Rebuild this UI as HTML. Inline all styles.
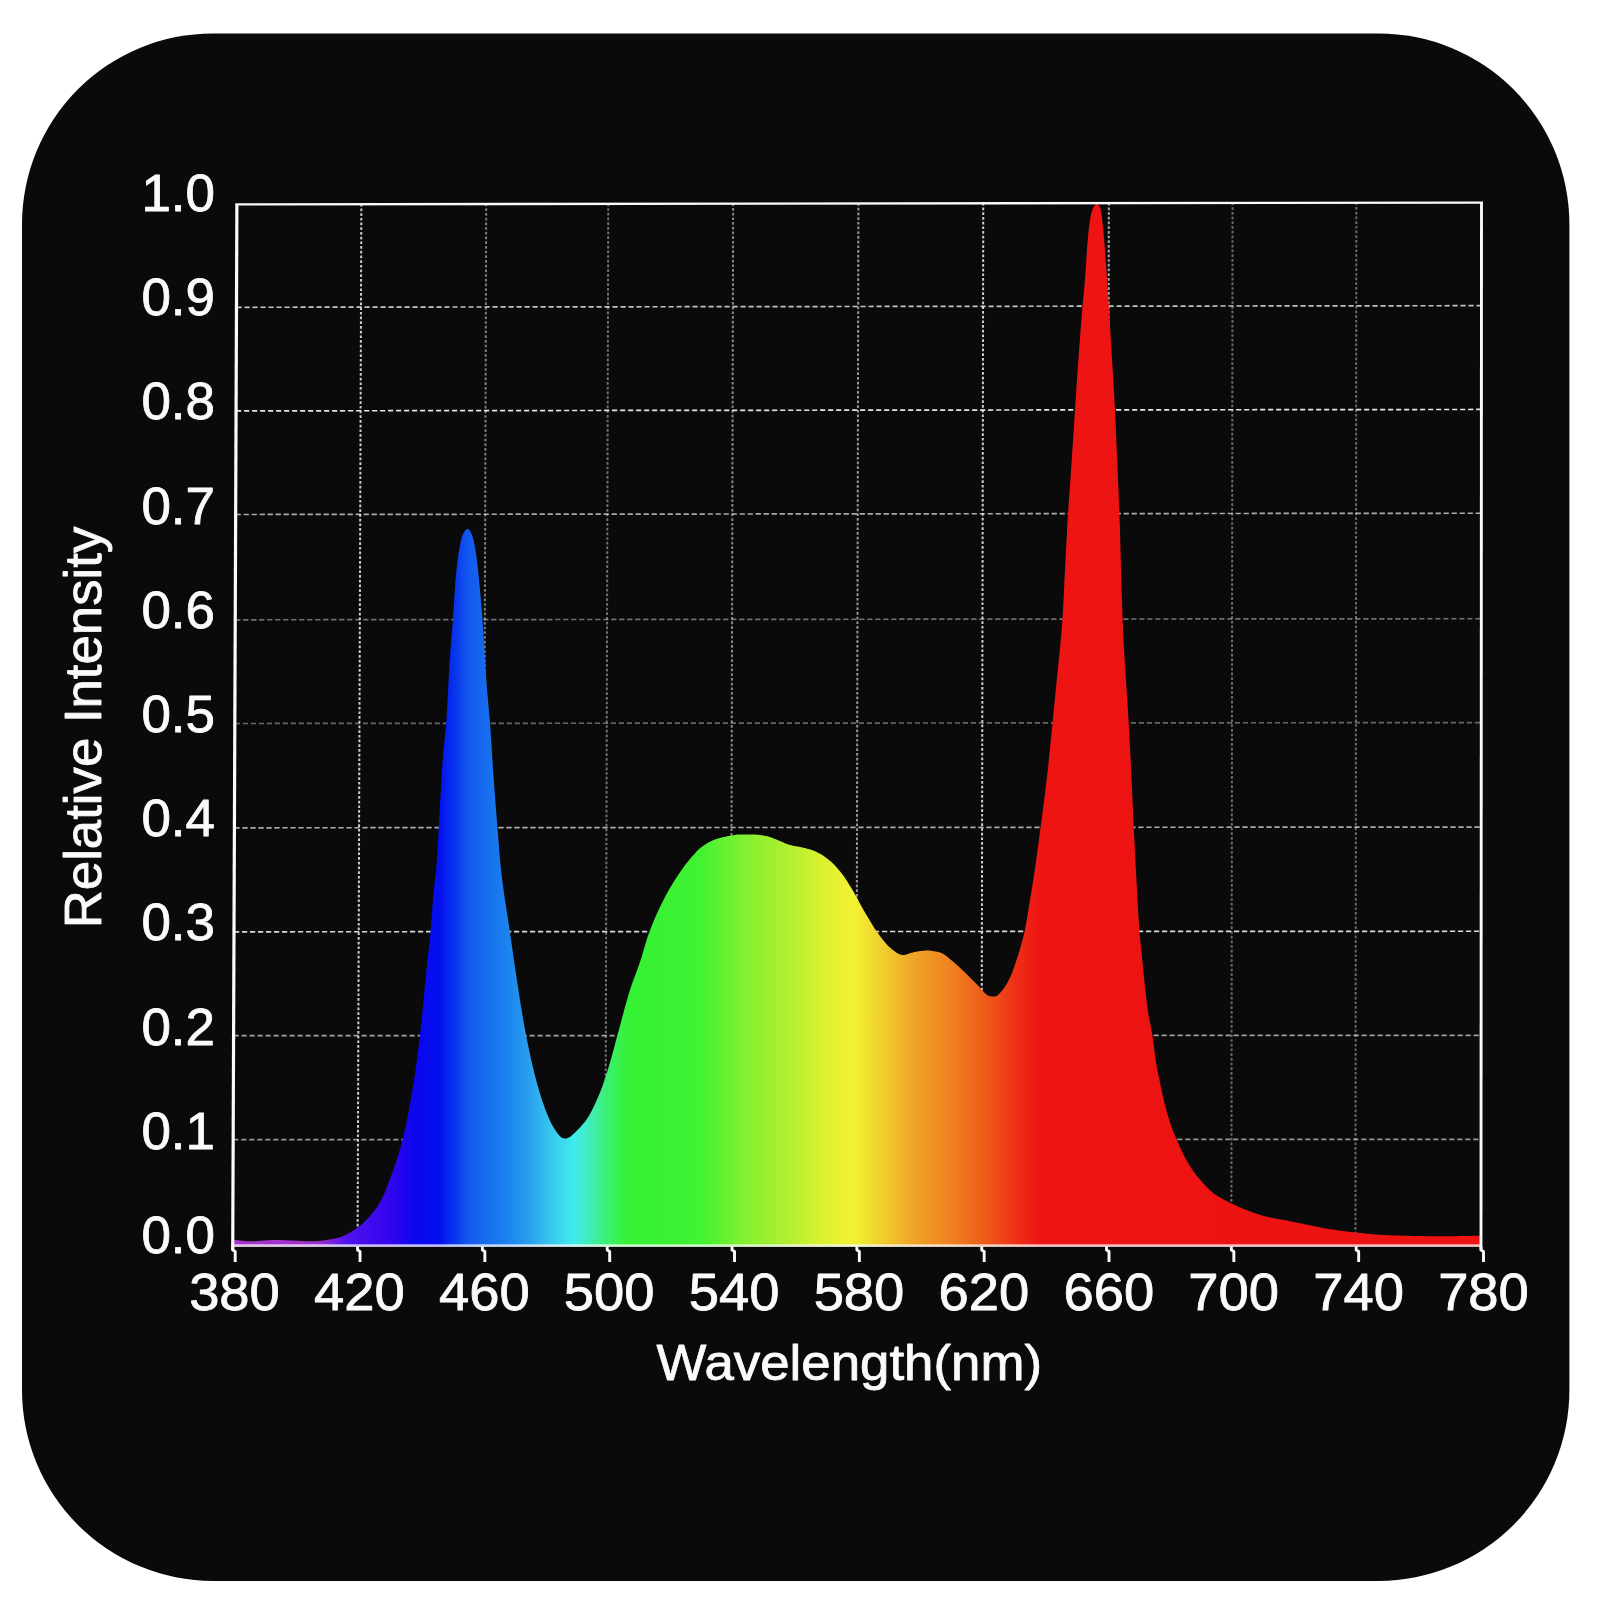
<!DOCTYPE html>
<html lang="en">
<head>
<meta charset="utf-8">
<title>Relative Intensity vs Wavelength(nm)</title>
<style>
html,body{margin:0;padding:0;background:#ffffff;}
body{width:1600px;height:1600px;overflow:hidden;position:relative;}
svg{position:absolute;left:0;top:0;display:block;}
text{font-family:"Liberation Sans", Arial, Helvetica, sans-serif;fill:#fbfbfb;stroke:#fbfbfb;stroke-width:0.8px;stroke-linejoin:round;}
</style>
</head>
<body>
<svg width="1600" height="1600" viewBox="0 0 1600 1600">
<defs>
<linearGradient id="spec" gradientUnits="userSpaceOnUse" x1="233" y1="0" x2="1481" y2="0">
<stop offset="0.0000" stop-color="#a832c8"/>
<stop offset="0.0665" stop-color="#a030cc"/>
<stop offset="0.0793" stop-color="#7a22dc"/>
<stop offset="0.0913" stop-color="#5012ec"/>
<stop offset="0.1274" stop-color="#3004ee"/>
<stop offset="0.1458" stop-color="#0a06ee"/>
<stop offset="0.1659" stop-color="#0410ee"/>
<stop offset="0.1779" stop-color="#0a36ee"/>
<stop offset="0.1875" stop-color="#1256ee"/>
<stop offset="0.2059" stop-color="#1870ee"/>
<stop offset="0.2179" stop-color="#1a80ee"/>
<stop offset="0.2380" stop-color="#2aa0ee"/>
<stop offset="0.2540" stop-color="#38c6ee"/>
<stop offset="0.2732" stop-color="#40ecee"/>
<stop offset="0.2877" stop-color="#40eeb0"/>
<stop offset="0.2997" stop-color="#3cf070"/>
<stop offset="0.3165" stop-color="#34f234"/>
<stop offset="0.3742" stop-color="#40f232"/>
<stop offset="0.4062" stop-color="#7cf030"/>
<stop offset="0.4463" stop-color="#b4f030"/>
<stop offset="0.4704" stop-color="#d8f030"/>
<stop offset="0.4968" stop-color="#f3f334"/>
<stop offset="0.5264" stop-color="#f0c42c"/>
<stop offset="0.5465" stop-color="#f0a226"/>
<stop offset="0.5761" stop-color="#f08020"/>
<stop offset="0.6066" stop-color="#ee5518"/>
<stop offset="0.6266" stop-color="#ee3016"/>
<stop offset="0.6466" stop-color="#ee1414"/>
<stop offset="1.0000" stop-color="#ee1212"/>
</linearGradient>
</defs>
<rect x="22.0" y="33.4" width="1547.4" height="1547.5" rx="191" ry="191" fill="#0a0a0a"/>
<g stroke="#f0f0f0" stroke-width="2" stroke-dasharray="2.7 2" fill="none">
<line x1="361.36" y1="203.82" x2="357.57" y2="1244" stroke-opacity="0.85"/>
<line x1="486.22" y1="203.64" x2="482.8" y2="1244" stroke-opacity="0.5"/>
<line x1="608.28" y1="203.46" x2="605.22" y2="1244" stroke-opacity="0.45"/>
<line x1="733.14" y1="203.28" x2="730.45" y2="1244" stroke-opacity="0.55"/>
<line x1="858.4" y1="203.1" x2="856.08" y2="1244" stroke-opacity="0.62"/>
<line x1="983.26" y1="202.92" x2="981.3" y2="1244" stroke-opacity="0.85"/>
<line x1="1108.82" y1="202.74" x2="1107.23" y2="1244" stroke-opacity="0.7"/>
<line x1="1232.58" y1="202.56" x2="1231.35" y2="1244" stroke-opacity="0.42"/>
<line x1="1356.34" y1="202.38" x2="1355.47" y2="1244" stroke-opacity="0.42"/>
</g>
<g stroke="#f0f0f0" stroke-width="1.7" stroke-dasharray="5.2 2.8" fill="none">
<line x1="236.49" y1="307.3" x2="1481.45" y2="305.68" stroke-opacity="0.8"/>
<line x1="236.07" y1="410.9" x2="1481.4" y2="409.46" stroke-opacity="0.95"/>
<line x1="235.66" y1="514.5" x2="1481.35" y2="513.24" stroke-opacity="0.7"/>
<line x1="235.24" y1="619.8" x2="1481.3" y2="618.72" stroke-opacity="0.45"/>
<line x1="234.82" y1="723.5" x2="1481.25" y2="722.6" stroke-opacity="0.4"/>
<line x1="234.41" y1="827.8" x2="1481.2" y2="827.08" stroke-opacity="0.7"/>
<line x1="234" y1="931.8" x2="1481.15" y2="931.26" stroke-opacity="0.9"/>
<line x1="233.58" y1="1035.7" x2="1481.1" y2="1035.34" stroke-opacity="0.65"/>
<line x1="233.16" y1="1139.6" x2="1481.05" y2="1139.42" stroke-opacity="0.6"/>
</g>
<path d="M233.5 1246.5L233.5 1239.4L235 1239.66L236.5 1239.92L238 1240.16L239.5 1240.39L241 1240.59L242.5 1240.78L244 1240.94L245.5 1241.07L247 1241.17L248.5 1241.23L250 1241.25L251.5 1241.24L253 1241.2L254.5 1241.14L256 1241.07L257.5 1240.98L259 1240.88L260.5 1240.77L262 1240.66L263.5 1240.55L265 1240.44L266.5 1240.34L268 1240.24L269.5 1240.15L271 1240.09L272.5 1240.04L274 1240.01L275.5 1240L277 1240.01L278.5 1240.03L280 1240.06L281.5 1240.1L283 1240.15L284.5 1240.2L286 1240.26L287.5 1240.32L289 1240.39L290.5 1240.46L292 1240.54L293.5 1240.61L295 1240.69L296.5 1240.76L298 1240.83L299.5 1240.9L301 1240.97L302.5 1241.03L304 1241.09L305.5 1241.14L307 1241.18L308.5 1241.21L310 1241.23L311.5 1241.25L313 1241.25L314.5 1241.22L316 1241.17L317.5 1241.08L319 1240.97L320.5 1240.84L322 1240.68L323.5 1240.5L325 1240.29L326.5 1240.07L328 1239.83L329.5 1239.58L331 1239.31L332.5 1239.02L334 1238.73L335.5 1238.42L337 1238.11L338.5 1237.76L340 1237.3L341.5 1236.74L343 1236.09L344.5 1235.38L346 1234.63L347.5 1233.84L349 1233.03L350.5 1232.23L352 1231.37L353.5 1230.45L355 1229.46L356.5 1228.42L358 1227.31L359.5 1226.15L361 1224.93L362.5 1223.65L364 1222.3L365.5 1220.87L367 1219.36L368.5 1217.77L370 1216.1L371.5 1214.34L373 1212.49L374.5 1210.52L376 1208.44L377.5 1206.22L379 1203.85L380.5 1201.33L382 1198.6L383.5 1195.48L385 1192.01L386.5 1188.28L388 1184.36L389.5 1180.35L391 1176.3L392.5 1172.19L394 1167.97L395.5 1163.6L397 1159.04L398.5 1154.25L400 1149.18L401.5 1143.79L403 1138.03L404.5 1131.76L406 1124.96L407.5 1117.66L409 1109.87L410.5 1101.64L412 1092.98L413.5 1083.8L415 1073.77L416.5 1062.95L418 1051.4L419.5 1039.2L421 1026.11L422.5 1011.49L424 995.95L425.5 980.18L427 964.88L428.5 950.87L430 937.16L431.5 919.44L433 898.63L434.5 883.68L436 872.07L437.5 850.43L439 823.73L440.5 796.14L442 769.43L443.5 749.36L445 735.9L446.5 719.59L448 692.28L449.5 662.91L451 642.5L452.5 625.86L454 603.38L455.5 580L457 565.23L458.5 554.06L460 545.16L461.5 537.98L463 534L464.5 531.34L466 529.46L467.5 528.75L469 529.62L470.5 531.9L472 535.08L473.5 539.54L475 547.17L476.5 556.71L478 569.7L479.5 585L481 601.09L482.5 619.5L484 643.18L485.5 668.87L487 689.34L488.5 705.63L490 723L491.5 745.12L493 768.97L494.5 790.18L496 809.42L497.5 828L499 847.19L500.5 865.02L502 878.6L503.5 889.68L505 900L506.5 910.03L508 919.56L509.5 929.17L511 939.4L512.5 950.09L514 960.72L515.5 970.8L517 980.69L518.5 990.51L520 1000.15L521.5 1009.52L523 1018.51L524.5 1027.04L526 1035L527.5 1042.51L529 1049.74L530.5 1056.68L532 1063.33L533.5 1069.67L535 1075.69L536.5 1081.39L538 1086.76L539.5 1091.87L541 1096.75L542.5 1101.39L544 1105.78L545.5 1109.91L547 1113.77L548.5 1117.37L550 1120.7L551.5 1123.75L553 1126.5L554.5 1128.96L556 1131.18L557.5 1133.2L559 1135.19L560.5 1136.84L562 1137.77L563.5 1138.47L565 1138.75L566.5 1138.49L568 1137.87L569.5 1137.14L571 1136.13L572.5 1134.86L574 1133.45L575.5 1132.03L577 1130.58L578.5 1129.07L580 1127.48L581.5 1125.81L583 1124.04L584.5 1122.15L586 1120.15L587.5 1118L589 1115.66L590.5 1113.07L592 1110.27L593.5 1107.28L595 1104.1L596.5 1100.77L598 1097.3L599.5 1093.72L601 1089.98L602.5 1085.93L604 1081.6L605.5 1077.05L607 1072.31L608.5 1067.45L610 1062.5L611.5 1057.33L613 1051.86L614.5 1046.22L616 1040.55L617.5 1035L619 1029.48L620.5 1023.88L622 1018.25L623.5 1012.65L625 1007.12L626.5 1001.73L628 996.53L629.5 991.59L631 986.95L632.5 982.62L634 978.51L635.5 974.5L637 970.48L638.5 966.35L640 962L641.5 957.29L643 952.28L644.5 947.16L646 942.11L647.5 937.33L649 933L650.5 929.03L652 925.22L653.5 921.53L655 917.98L656.5 914.55L658 911.24L659.5 908.02L661 904.91L662.5 901.88L664 898.93L665.5 896.05L667 893.26L668.5 890.57L670 887.97L671.5 885.45L673 882.99L674.5 880.61L676 878.28L677.5 876L679 873.76L680.5 871.57L682 869.41L683.5 867.32L685 865.28L686.5 863.31L688 861.41L689.5 859.59L691 857.83L692.5 856.09L694 854.38L695.5 852.71L697 851.12L698.5 849.62L700 848.24L701.5 846.99L703 845.9L704.5 844.88L706 843.93L707.5 843.02L709 842.18L710.5 841.41L712 840.7L713.5 840.06L715 839.5L716.5 838.99L718 838.52L719.5 838.08L721 837.68L722.5 837.3L724 836.95L725.5 836.64L727 836.34L728.5 836.06L730 835.78L731.5 835.49L733 835.22L734.5 834.97L736 834.76L737.5 834.61L739 834.52L740.5 834.5L742 834.5L743.5 834.5L745 834.5L746.5 834.5L748 834.5L749.5 834.5L751 834.5L752.5 834.5L754 834.53L755.5 834.6L757 834.71L758.5 834.86L760 835.03L761.5 835.23L763 835.45L764.5 835.67L766 835.93L767.5 836.29L769 836.74L770.5 837.26L772 837.83L773.5 838.43L775 839.03L776.5 839.62L778 840.19L779.5 840.79L781 841.44L782.5 842.1L784 842.77L785.5 843.41L787 844.01L788.5 844.55L790 845L791.5 845.37L793 845.69L794.5 845.98L796 846.25L797.5 846.51L799 846.77L800.5 847.06L802 847.38L803.5 847.74L805 848.11L806.5 848.5L808 848.91L809.5 849.35L811 849.81L812.5 850.32L814 850.86L815.5 851.45L817 852.13L818.5 852.88L820 853.71L821.5 854.61L823 855.57L824.5 856.58L826 857.64L827.5 858.75L829 859.93L830.5 861.21L832 862.58L833.5 864.04L835 865.59L836.5 867.21L838 868.9L839.5 870.65L841 872.49L842.5 874.47L844 876.58L845.5 878.8L847 881.11L848.5 883.49L850 885.91L851.5 888.36L853 890.83L854.5 893.4L856 896.08L857.5 898.83L859 901.63L860.5 904.43L862 907.19L863.5 909.9L865 912.5L866.5 915.05L868 917.59L869.5 920.11L871 922.6L872.5 925.02L874 927.38L875.5 929.65L877 931.81L878.5 933.87L880 935.93L881.5 937.97L883 939.94L884.5 941.82L886 943.59L887.5 945.21L889 946.65L890.5 947.9L892 949.14L893.5 950.39L895 951.58L896.5 952.67L898 953.61L899.5 954.35L901 954.83L902.5 955L904 954.91L905.5 954.65L907 954.28L908.5 953.83L910 953.34L911.5 952.86L913 952.43L914.5 952.09L916 951.84L917.5 951.59L919 951.34L920.5 951.11L922 950.9L923.5 950.72L925 950.59L926.5 950.52L928 950.5L929.5 950.57L931 950.7L932.5 950.89L934 951.14L935.5 951.43L937 951.76L938.5 952.12L940 952.5L941.5 953.03L943 953.79L944.5 954.75L946 955.86L947.5 957.07L949 958.33L950.5 959.61L952 960.85L953.5 962.05L955 963.3L956.5 964.6L958 965.94L959.5 967.32L961 968.71L962.5 970.13L964 971.55L965.5 972.98L967 974.44L968.5 975.94L970 977.47L971.5 979.01L973 980.54L974.5 982.06L976 983.55L977.5 985L979 986.53L980.5 988.23L982 989.98L983.5 991.7L985 993.28L986.5 994.61L988 995.61L989.5 996.18L991 996.33L992.5 996.43L994 996.49L995.5 996.45L997 995.81L998.5 994.57L1000 992.95L1001.5 991.17L1003 989.41L1004.5 987.39L1006 985.04L1007.5 982.41L1009 979.53L1010.5 976.43L1012 972.9L1013.5 968.93L1015 964.63L1016.5 960.1L1018 955.44L1019.5 950.64L1021 945.57L1022.5 940.06L1024 933.95L1025.5 926.88L1027 918.42L1028.5 909.22L1030 900L1031.5 890.98L1033 881.74L1034.5 872L1036 861.58L1037.5 850.62L1039 839.3L1040.5 827.83L1042 816.4L1043.5 805L1045 793.35L1046.5 781.12L1048 767.98L1049.5 753.51L1051 738.26L1052.5 723L1054 708.01L1055.5 692.94L1057 677.66L1058.5 662.63L1060 648.41L1061.5 632.36L1063 610.87L1064.5 580L1066 550.43L1067.5 522.2L1069 498.68L1070.5 478.14L1072 456.24L1073.5 433.03L1075 410L1076.5 387.51L1078 365.54L1079.5 344.7L1081 324.68L1082.5 306.25L1084 290.92L1085.5 273.05L1087 249.01L1088.5 231.87L1090 220L1091.5 212.57L1093 208L1094.5 205.53L1096 203.98L1097.5 203.95L1099 205.4L1100.5 208.58L1102 217.78L1103.5 232.34L1105 250.16L1106.5 271.09L1108 294.27L1109.5 318.24L1111 342.65L1112.5 367.5L1114 392L1115.5 420.39L1117 456.04L1118.5 490.71L1120 530.69L1121.5 587.89L1123 630.48L1124.5 657.75L1126 681L1127.5 703.69L1129 727.4L1130.5 756.86L1132 788.76L1133.5 822.21L1135 852.67L1136.5 881.57L1138 908.89L1139.5 932.49L1141 947.78L1142.5 962.34L1144 977.47L1145.5 991.4L1147 1004.43L1148.5 1014.98L1150 1022.73L1151.5 1029.9L1153 1039.11L1154.5 1051.68L1156 1062.44L1157.5 1070.49L1159 1077.77L1160.5 1085.15L1162 1092.32L1163.5 1098.96L1165 1105.02L1166.5 1110.74L1168 1116.08L1169.5 1120.98L1171 1125.39L1172.5 1129.4L1174 1133.14L1175.5 1136.72L1177 1140.23L1178.5 1143.73L1180 1147.13L1181.5 1150.41L1183 1153.52L1184.5 1156.44L1186 1159.24L1187.5 1161.94L1189 1164.52L1190.5 1166.96L1192 1169.27L1193.5 1171.43L1195 1173.48L1196.5 1175.45L1198 1177.32L1199.5 1179.12L1201 1180.84L1202.5 1182.5L1204 1184.12L1205.5 1185.72L1207 1187.29L1208.5 1188.8L1210 1190.25L1211.5 1191.61L1213 1192.88L1214.5 1194.04L1216 1195.09L1217.5 1196.07L1219 1196.99L1220.5 1197.86L1222 1198.68L1223.5 1199.48L1225 1200.24L1226.5 1200.99L1228 1201.72L1229.5 1202.45L1231 1203.18L1232.5 1203.91L1234 1204.64L1235.5 1205.35L1237 1206.05L1238.5 1206.74L1240 1207.41L1241.5 1208.06L1243 1208.7L1244.5 1209.31L1246 1209.9L1247.5 1210.48L1249 1211.05L1250.5 1211.6L1252 1212.15L1253.5 1212.69L1255 1213.22L1256.5 1213.73L1258 1214.22L1259.5 1214.69L1261 1215.15L1262.5 1215.58L1264 1215.99L1265.5 1216.38L1267 1216.74L1268.5 1217.09L1270 1217.42L1271.5 1217.74L1273 1218.05L1274.5 1218.34L1276 1218.63L1277.5 1218.92L1279 1219.19L1280.5 1219.47L1282 1219.74L1283.5 1220.02L1285 1220.29L1286.5 1220.57L1288 1220.86L1289.5 1221.15L1291 1221.45L1292.5 1221.75L1294 1222.05L1295.5 1222.35L1297 1222.65L1298.5 1222.95L1300 1223.25L1301.5 1223.55L1303 1223.85L1304.5 1224.16L1306 1224.47L1307.5 1224.78L1309 1225.1L1310.5 1225.42L1312 1225.74L1313.5 1226.06L1315 1226.37L1316.5 1226.68L1318 1226.99L1319.5 1227.29L1321 1227.59L1322.5 1227.87L1324 1228.15L1325.5 1228.42L1327 1228.67L1328.5 1228.91L1330 1229.15L1331.5 1229.38L1333 1229.61L1334.5 1229.84L1336 1230.06L1337.5 1230.27L1339 1230.49L1340.5 1230.7L1342 1230.9L1343.5 1231.1L1345 1231.29L1346.5 1231.48L1348 1231.66L1349.5 1231.84L1351 1232.02L1352.5 1232.18L1354 1232.34L1355.5 1232.5L1357 1232.65L1358.5 1232.81L1360 1232.96L1361.5 1233.11L1363 1233.27L1364.5 1233.42L1366 1233.57L1367.5 1233.71L1369 1233.86L1370.5 1234L1372 1234.13L1373.5 1234.27L1375 1234.39L1376.5 1234.52L1378 1234.63L1379.5 1234.74L1381 1234.85L1382.5 1234.94L1384 1235.03L1385.5 1235.11L1387 1235.18L1388.5 1235.25L1390 1235.3L1391.5 1235.35L1393 1235.39L1394.5 1235.44L1396 1235.49L1397.5 1235.53L1399 1235.57L1400.5 1235.62L1402 1235.66L1403.5 1235.7L1405 1235.74L1406.5 1235.78L1408 1235.82L1409.5 1235.85L1411 1235.89L1412.5 1235.92L1414 1235.95L1415.5 1235.99L1417 1236.01L1418.5 1236.04L1420 1236.07L1421.5 1236.09L1423 1236.12L1424.5 1236.14L1426 1236.16L1427.5 1236.18L1429 1236.19L1430.5 1236.21L1432 1236.22L1433.5 1236.23L1435 1236.24L1436.5 1236.24L1438 1236.25L1439.5 1236.25L1441 1236.25L1442.5 1236.25L1444 1236.24L1445.5 1236.24L1447 1236.23L1448.5 1236.22L1450 1236.21L1451.5 1236.2L1453 1236.18L1454.5 1236.17L1456 1236.15L1457.5 1236.13L1459 1236.11L1460.5 1236.08L1462 1236.06L1463.5 1236.03L1465 1236L1466.5 1235.97L1468 1235.94L1469.5 1235.9L1471 1235.87L1472.5 1235.83L1474 1235.79L1475.5 1235.75L1477 1235.71L1478.5 1235.66L1480 1235.62L1480 1246.5Z" fill="url(#spec)"/>
<g stroke="#fbfbfb" fill="none" stroke-linecap="butt">
<line x1="235.4" y1="204.4" x2="1483" y2="202.6" stroke-width="2.3"/>
<line x1="236.9" y1="204" x2="232.72" y2="1250" stroke-width="3.2"/>
<line x1="1481.5" y1="202.2" x2="1481" y2="1250" stroke-width="2.9"/>
<line x1="232.75" y1="1245.6" x2="1481" y2="1245.6" stroke-width="2.8" stroke-opacity="0.72"/>
<path d="M232.75 1246.5V1250L235.2 1251.5V1262" stroke-width="2.9" stroke-linejoin="round"/>
<path d="M357.57 1246.5V1250L360.03 1251.5V1262" stroke-width="2.9" stroke-linejoin="round"/>
<path d="M482.4 1246.5V1250L484.86 1251.5V1262" stroke-width="2.9" stroke-linejoin="round"/>
<path d="M607.22 1246.5V1250L609.69 1251.5V1262" stroke-width="2.9" stroke-linejoin="round"/>
<path d="M732.05 1246.5V1250L734.52 1251.5V1262" stroke-width="2.9" stroke-linejoin="round"/>
<path d="M856.88 1246.5V1250L859.35 1251.5V1262" stroke-width="2.9" stroke-linejoin="round"/>
<path d="M981.7 1246.5V1250L984.18 1251.5V1262" stroke-width="2.9" stroke-linejoin="round"/>
<path d="M1106.53 1246.5V1250L1109.01 1251.5V1262" stroke-width="2.9" stroke-linejoin="round"/>
<path d="M1231.35 1246.5V1250L1233.84 1251.5V1262" stroke-width="2.9" stroke-linejoin="round"/>
<path d="M1356.17 1246.5V1250L1358.67 1251.5V1262" stroke-width="2.9" stroke-linejoin="round"/>
<path d="M1481 1246.5V1250L1483.5 1251.5V1262" stroke-width="2.9" stroke-linejoin="round"/>
</g>
<g font-size="52.4" text-anchor="end">
<text x="215" y="210.9" textLength="73.6" lengthAdjust="spacingAndGlyphs">1.0</text>
<text x="215" y="315.1" textLength="73.6" lengthAdjust="spacingAndGlyphs">0.9</text>
<text x="215" y="419.3" textLength="73.6" lengthAdjust="spacingAndGlyphs">0.8</text>
<text x="215" y="523.5" textLength="73.6" lengthAdjust="spacingAndGlyphs">0.7</text>
<text x="215" y="627.7" textLength="73.6" lengthAdjust="spacingAndGlyphs">0.6</text>
<text x="215" y="731.9" textLength="73.6" lengthAdjust="spacingAndGlyphs">0.5</text>
<text x="215" y="836.1" textLength="73.6" lengthAdjust="spacingAndGlyphs">0.4</text>
<text x="215" y="940.3" textLength="73.6" lengthAdjust="spacingAndGlyphs">0.3</text>
<text x="215" y="1044.5" textLength="73.6" lengthAdjust="spacingAndGlyphs">0.2</text>
<text x="215" y="1148.7" textLength="73.6" lengthAdjust="spacingAndGlyphs">0.1</text>
<text x="215" y="1252.9" textLength="73.6" lengthAdjust="spacingAndGlyphs">0.0</text>
</g>
<g font-size="52.2" text-anchor="middle">
<text x="234.5" y="1309.9" textLength="90.7" lengthAdjust="spacingAndGlyphs">380</text>
<text x="359.4" y="1309.9" textLength="90.7" lengthAdjust="spacingAndGlyphs">420</text>
<text x="484.3" y="1309.9" textLength="90.7" lengthAdjust="spacingAndGlyphs">460</text>
<text x="609.2" y="1309.9" textLength="90.7" lengthAdjust="spacingAndGlyphs">500</text>
<text x="734.1" y="1309.9" textLength="90.7" lengthAdjust="spacingAndGlyphs">540</text>
<text x="859" y="1309.9" textLength="90.7" lengthAdjust="spacingAndGlyphs">580</text>
<text x="983.9" y="1309.9" textLength="90.7" lengthAdjust="spacingAndGlyphs">620</text>
<text x="1108.8" y="1309.9" textLength="90.7" lengthAdjust="spacingAndGlyphs">660</text>
<text x="1233.7" y="1309.9" textLength="90.7" lengthAdjust="spacingAndGlyphs">700</text>
<text x="1358.6" y="1309.9" textLength="90.7" lengthAdjust="spacingAndGlyphs">740</text>
<text x="1483.5" y="1309.9" textLength="90.7" lengthAdjust="spacingAndGlyphs">780</text>
</g>
<text x="849.3" y="1380.4" font-size="50" text-anchor="middle" textLength="385.5" lengthAdjust="spacingAndGlyphs">Wavelength(nm)</text>
<text transform="translate(100.9 727.5) rotate(-90)" font-size="51.6" text-anchor="middle" textLength="401.5" lengthAdjust="spacingAndGlyphs">Relative Intensity</text>
</svg>
</body>
</html>
